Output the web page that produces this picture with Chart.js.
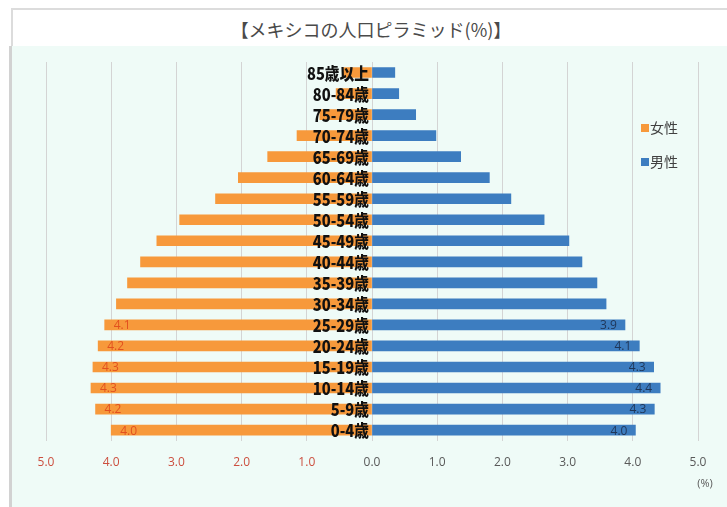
<!DOCTYPE html>
<html>
<head>
<meta charset="utf-8">
<script src="https://cdn.jsdelivr.net/npm/chart.js@4/dist/chart.umd.min.js"></script>
<style>
  body { margin: 0; background: #fff; width: 727px; height: 507px; overflow: hidden; position: relative; }
  #titleBox {
    position: absolute; left: 11px; top: 8px; width: 716px; height: 36px;
    border-top: 2px solid #dcdcdc; border-left: 2px solid #dcdcdc; border-bottom: 2px solid #dcdcdc;
    background: #fff; text-align: center;
    font-family: "Noto Sans CJK JP", sans-serif; font-size: 18px; line-height: 38px; color: #4a4a4a;
  }
  #chartBox {
    position: absolute; left: 9px; top: 46px; width: 718px; height: 461px;
    border-left: 3px solid #d2d2d2; background: #effbf7;
  }
</style>
</head>
<body>
<div id="titleBox">【メキシコの人口ピラミッド(%)】</div>
<div id="chartBox"><canvas id="pyramid" width="715" height="461"></canvas></div>
<script>
// age groups, top to bottom
const ageGroups = ['85歳以上', '80-84歳', '75-79歳', '70-74歳', '65-69歳', '60-64歳',
  '55-59歳', '50-54歳', '45-49歳', '40-44歳', '35-39歳', '30-34歳',
  '25-29歳', '20-24歳', '15-19歳', '10-14歳', '5-9歳', '0-4歳'];
const female = [0.45, 0.55, 0.8, 1.15, 1.6, 2.05, 2.4, 2.95, 3.3, 3.55, 3.75, 3.92, 4.1, 4.2, 4.28, 4.31, 4.24, 4.0];
const male = [0.35, 0.41, 0.67, 0.98, 1.36, 1.8, 2.13, 2.64, 3.02, 3.22, 3.45, 3.59, 3.88, 4.1, 4.32, 4.42, 4.33, 4.04];
const seriesNames = ['女性', '男性'];
const tickValues = [-5, -4, -3, -2, -1, 0, 1, 2, 3, 4, 5];
const labelledFrom = 12; // value labels only on the youngest six groups

const orange = '#f7993b';
const blue = '#3d7dc0';

// draws the age names at the centre, value labels, legend and the (%) note
const extrasPlugin = {
  id: 'extras',
  afterDatasetsDraw(chart) {
    const ctx = chart.ctx;
    const x = chart.scales.x;
    const zero = x.getPixelForValue(0);
    const fBars = chart.getDatasetMeta(0).data;
    const mBars = chart.getDatasetMeta(1).data;

    ctx.save();
    ctx.textBaseline = 'middle';

    // age group names
    ctx.font = '900 16px "Noto Sans CJK JP"';
    ctx.fillStyle = '#111';
    ctx.textAlign = 'right';
    fBars.forEach((bar, i) => {
      ctx.save();
      ctx.translate(zero - 3, bar.y + 1);
      ctx.scale(0.92, 1.05);
      ctx.fillText(ageGroups[i], 0, 0);
      ctx.restore();
    });

    // value labels
    ctx.font = '12px "Open Sans"';
    for (let i = labelledFrom; i < ageGroups.length; i++) {
      ctx.textAlign = 'left';
      ctx.fillStyle = '#e2501f';
      ctx.fillText(female[i].toFixed(1), fBars[i].x + 9, fBars[i].y + 1);
      ctx.textAlign = 'right';
      ctx.fillStyle = '#1f3658';
      ctx.fillText(male[i].toFixed(1), mBars[i].x - 8, mBars[i].y + 1);
    }

    // legend
    ctx.font = '14px "Noto Sans CJK JP"';
    ctx.textAlign = 'left';
    [orange, blue].forEach((c, k) => {
      const ly = 82 + k * 34;
      ctx.fillStyle = c;
      ctx.fillRect(629, ly - 4, 8, 8);
      ctx.fillStyle = '#404040';
      ctx.fillText(seriesNames[k], 638, ly);
    });

    // unit
    ctx.font = '11px "Open Sans"';
    ctx.fillStyle = '#595959';
    ctx.textAlign = 'center';
    ctx.fillText('(%)', 693, 438);
    ctx.restore();
  }
};

new Chart(document.getElementById('pyramid'), {
  type: 'bar',
  data: {
    labels: ageGroups,
    datasets: [
      { label: seriesNames[0], data: female.map(v => -v), backgroundColor: orange, barThickness: 10 },
      { label: seriesNames[1], data: male, backgroundColor: blue, barThickness: 10 }
    ]
  },
  options: {
    indexAxis: 'y',
    responsive: false,
    animation: false,
    layout: { padding: { left: 34, right: 29, top: 16, bottom: 22 } },
    scales: {
      x: {
        stacked: true,
        min: -5,
        max: 5,
        afterBuildTicks: axis => { axis.ticks = tickValues.map(v => ({ value: v })); },
        grid: { color: '#d4d4d4', drawTicks: false },
        border: { display: false },
        ticks: {
          padding: 15,
          font: { family: 'Open Sans', size: 12 },
          color: c => (c.tick && c.tick.value < 0 ? '#cc4f3f' : '#595959'),
          callback: v => Math.abs(v).toFixed(1)
        }
      },
      y: {
        stacked: true,
        display: false
      }
    },
    plugins: {
      legend: { display: false },
      tooltip: { enabled: false }
    }
  },
  plugins: [extrasPlugin]
});
</script>
</body>
</html>
